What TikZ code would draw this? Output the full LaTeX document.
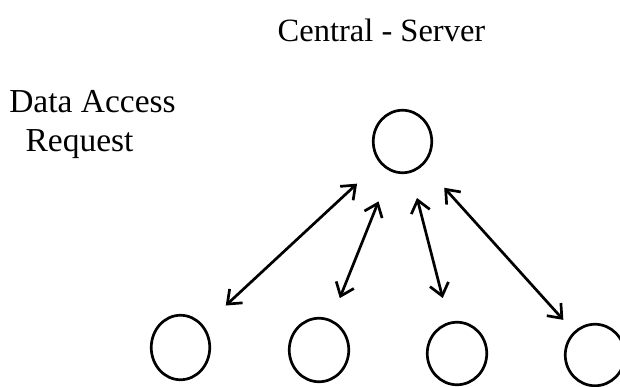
\documentclass[tikz,border=0pt]{standalone}
\usepackage{fontspec}
\setmainfont{Liberation Serif}
\usetikzlibrary{shapes.geometric,arrows.meta}
\begin{document}
\begin{tikzpicture}[x=1pt,y=-1pt,
  site/.style={draw,ellipse,line width=2.7pt,inner sep=0pt},
  link/.style={line width=2.7pt,
    {Straight Barb[length=12pt,width=19pt]}-{Straight Barb[length=12pt,width=19pt]}},
  lbl/.style={inner sep=0pt,anchor=base}]
  \useasboundingbox (0,0) rectangle (620,387);
  \clip (0,0) rectangle (620,387);
  \fill[white] (0,0) rectangle (620,387);

  % labels
  \node[lbl,font=\fontsize{32.5}{39}\selectfont] (title) at (381.5,42) {Central - Server};
  \node[lbl,font=\fontsize{33.5}{39}\selectfont] (req1) at (92.5,113) {Data Access};
  \node[lbl,font=\fontsize{33.5}{39}\selectfont] (req2) at (79.5,152) {Request};

  % server and clients
  \node[site,minimum width=58.5pt,minimum height=62.5pt] (hub) at (402.5,141.5) {};
  \node[site,minimum width=58.5pt,minimum height=64.5pt] (c1) at (180.5,347.5) {};
  \node[site,minimum width=59.5pt,minimum height=63.5pt] (c2) at (319,350) {};
  \node[site,minimum width=59.5pt,minimum height=62.5pt] (c3) at (457,353.5) {};
  \node[site,minimum width=59.5pt,minimum height=61.5pt] (c4) at (595,355) {};

  % two-way access links
  \draw[link,shorten <=62pt,shorten >=61.7pt] (hub.center) -- (c1.center);
  \draw[link,shorten <=64.5pt,shorten >=55.9pt] (hub.center) -- (c2.center);
  \draw[link,shorten <=58.3pt,shorten >=57.3pt] (hub.center) -- (c3.center);
  \draw[link,shorten <=62.3pt,shorten >=47.3pt] (hub.center) -- (c4.center);
\end{tikzpicture}
\end{document}
